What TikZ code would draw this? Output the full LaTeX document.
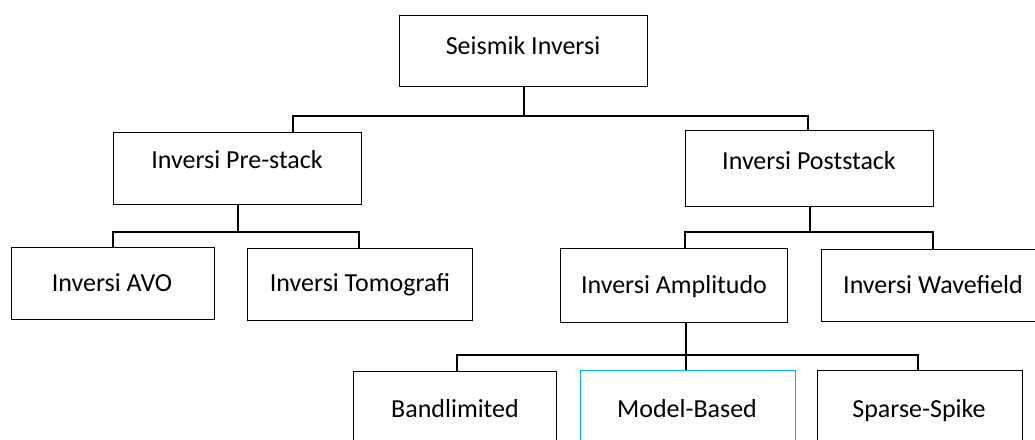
\documentclass[tikz,border=0pt]{standalone}
\usepackage{fontspec}
\setmainfont{Carlito}
\definecolor{cyanline}{RGB}{0,176,240}
\begin{document}
\begin{tikzpicture}[x=1pt,y=-1pt,
  box/.style={draw=black, line width=1.3pt, rectangle, inner sep=0pt, anchor=north west},
  conn/.style={draw=black, line width=2pt},
  lbl/.style={anchor=base, inner sep=0pt, font=\fontsize{26}{31}\selectfont}]
\useasboundingbox (0,0) rectangle (1035,439);
\clip (0,0) rectangle (1035,439);

% boxes
\node[box, minimum width=248pt, minimum height=71pt] (root) at (399,15) {};
\node[box, minimum width=248pt, minimum height=72pt] (pre) at (113,132) {};
\node[box, minimum width=248pt, minimum height=76pt] (post) at (685,130) {};
\node[box, minimum width=203pt, minimum height=72pt] (avo) at (11,247) {};
\node[box, minimum width=225pt, minimum height=72pt] (tomo) at (247,248) {};
\node[box, minimum width=227pt, minimum height=74pt] (amp) at (560,248) {};
\node[box, minimum width=224pt, minimum height=72pt] (wave) at (821,249) {};
\node[box, minimum width=203pt, minimum height=80pt] (band) at (353,371) {};
\node[box, draw=cyanline, minimum width=215pt, minimum height=80pt] (model) at (580,370) {};
\node[box, minimum width=205pt, minimum height=80pt] (sparse) at (817,370) {};

% labels
\node[lbl] (rootT) at (523,54) {Seismik Inversi};
\node[lbl] (preT) at (237,168) {Inversi Pre-stack};
\node[lbl] (postT) at (809,169) {Inversi Poststack};
\node[lbl] (avoT) at (112,291) {Inversi AVO};
\node[lbl] (tomoT) at (360,291) {Inversi Tomografi};
\node[lbl] (ampT) at (674,293) {Inversi Amplitudo};
\node[lbl] (waveT) at (933,293) {Inversi Wavefield};
\node[lbl] (bandT) at (455,417) {Bandlimited};
\node[lbl] (modelT) at (687,417) {Model-Based};
\node[lbl] (sparseT) at (919,417) {Sparse-Spike};

% attach points
\coordinate (preIn) at (293,132);
\coordinate (postIn) at (808,130);
\coordinate (avoIn) at (113,247);
\coordinate (tomoIn) at (359,248);
\coordinate (ampIn) at (685,248);
\coordinate (waveIn) at (933,249);
\coordinate (ampOut) at (686,322);
\coordinate (bandIn) at (457,371);
\coordinate (sparseIn) at (918,370);

% connectors
\draw[conn] (root.south) -- ++(0,30);
\draw[conn] (preIn) -- ++(0,-16) -| (postIn);
\draw[conn] (pre.south) -- ++(0,28);
\draw[conn] (avoIn) -- ++(0,-15) -| (tomoIn);
\draw[conn] (post.south) -- ++(0,26);
\draw[conn] (ampIn) -- ++(0,-16) -| (waveIn);
\draw[conn] (ampOut) -- (ampOut |- model.north);
\draw[conn] (bandIn) -- ++(0,-16) -| (sparseIn);
\end{tikzpicture}
\end{document}
